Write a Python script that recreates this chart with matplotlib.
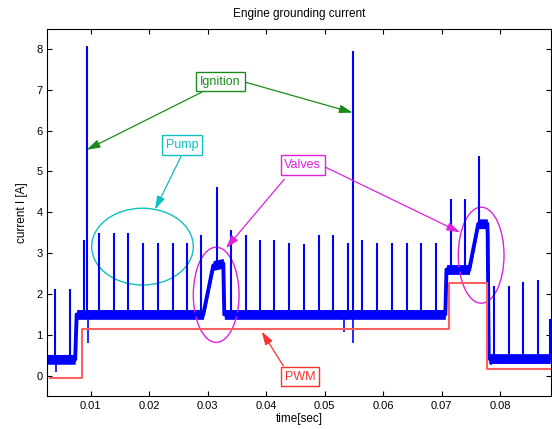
import numpy as np
import matplotlib
matplotlib.use("Agg")
import matplotlib.pyplot as plt
from matplotlib.patches import Ellipse

plt.rcParams['font.family'] = ['Liberation Sans', 'DejaVu Sans']

# baseline (noise band centre) of the measured current
base_t = [0.00258, 0.00735, 0.0076, 0.02926, 0.03097, 0.03268, 0.03285, 0.07065, 0.07085,
          0.07475, 0.07629, 0.07783, 0.0779, 0.07807, 0.0886]
base_v = [0.4, 0.4, 1.5, 1.5, 2.7, 2.75, 1.5, 1.5, 2.6,
          2.6, 3.72, 3.72, 3.45, 0.42, 0.42]

# spikes (time, peak)
spike_t = [0.0039, 0.00641, 0.00885, 0.00942, 0.01142, 0.01398, 0.01643, 0.01894, 0.02146,
           0.0240, 0.02642, 0.02892, 0.03155, 0.03405, 0.03656, 0.03896, 0.0414, 0.04391,
           0.04643, 0.04905, 0.05149, 0.054, 0.05481, 0.05645, 0.05897, 0.06153, 0.06404,
           0.06649, 0.069, 0.07157, 0.07407, 0.07646, 0.07898, 0.08154, 0.08399, 0.08645, 0.0886]
spike_v = [2.12, 2.12, 3.31, 8.07, 3.49, 3.49, 3.49, 3.24, 3.24,
           3.24, 3.24, 3.44, 4.61, 3.57, 3.44, 3.31, 3.31, 3.24,
           3.23, 3.44, 3.44, 3.24, 7.95, 3.31, 3.24, 3.24, 3.24,
           3.24, 3.24, 4.32, 4.32, 5.38, 2.2, 2.2, 2.3, 2.34, 1.4]

# downward dips (time, minimum)
dip_t = [0.0041, 0.00959, 0.0534, 0.05481, 0.0785]
dip_v = [0.1, 0.79, 1.08, 0.79, 0.27]

# PWM reference signal
pwm_t = [0.00304, 0.00846, 0.00846, 0.07122, 0.07122, 0.07783, 0.07783, 0.0886]
pwm_v = [-0.06, -0.06, 1.15, 1.15, 2.28, 2.28, 0.16, 0.16]

blue = '#0000ff'
green = '#1a8a1a'
cyan = '#10bfbf'
magenta = '#dd22dd'
red = '#ff3030'

fig = plt.figure(figsize=(5.52, 4.29), dpi=100)
ax = fig.add_axes([0.0857, 0.0776, 0.9116, 0.8541])

bt = np.array(base_t)
bv = np.array(base_v)
ax.fill_between(bt, bv - 0.12, bv + 0.12, color=blue, lw=0)
ax.plot(bt, bv, color=blue, lw=2.8)
foot = np.interp(spike_t, bt, bv)
ax.vlines(spike_t, foot, spike_v, color=blue, lw=1.5)
ax.vlines(dip_t, dip_v, np.interp(dip_t, bt, bv), color=blue, lw=1.2)

ax.plot(pwm_t, pwm_v, color='#ff6060', lw=1.5)

ax.set_xlim(0.00258, 0.08864)
ax.set_ylim(-0.49, 8.48)
ax.set_xticks([0.01, 0.02, 0.03, 0.04, 0.05, 0.06, 0.07, 0.08])
ax.set_xticklabels(['0.01', '0.02', '0.03', '0.04', '0.05', '0.06', '0.07', '0.08'])
ax.set_yticks(range(0, 9))
ax.tick_params(direction='in', top=True, right=True, length=3.5, labelsize=8, width=0.8)
for s in ax.spines.values():
    s.set_linewidth(0.8)

ax.set_title('Engine grounding current', fontsize=8.5, pad=9)
ax.set_xlabel('time[sec]', fontsize=8.5, labelpad=2)
ax.set_ylabel('current I [A]', fontsize=8.5, labelpad=6)

# ellipses round the events
ax.add_patch(Ellipse((0.01886, 3.16), 0.01738, 1.88, fill=False, ec=cyan, lw=1))
ax.add_patch(Ellipse((0.03146, 1.98), 0.00782, 2.33, fill=False, ec=magenta, lw=1))
ax.add_patch(Ellipse((0.07678, 2.95), 0.00782, 2.35, fill=False, ec=magenta, lw=1))

def label(x, y, text, color):
    ax.text(x, y, text, color=color, fontsize=9, ha='center', va='center',
            bbox=dict(boxstyle='square,pad=0.3', fc='white', ec=color, lw=1))

def arrow(x0, y0, x1, y1, color):
    ax.annotate('', xy=(x1, y1), xytext=(x0, y0),
                arrowprops=dict(arrowstyle='-|>,head_length=0.8,head_width=0.25',
                                color=color, lw=0.9, shrinkA=0, shrinkB=0))

arrow(0.02898, 6.94, 0.00932, 5.53, green)
arrow(0.0361, 7.2, 0.05481, 6.44, green)
arrow(0.02556, 5.40, 0.0210, 4.07, cyan)
arrow(0.04311, 4.81, 0.03314, 3.12, magenta)
arrow(0.04978, 5.13, 0.07316, 3.51, magenta)
arrow(0.04294, 0.24, 0.03925, 1.08, red)

label(0.0322, 7.2, 'Ignition', green)
label(0.02561, 5.65, 'Pump', cyan)
label(0.04628, 5.16, 'Valves', magenta)
label(0.04588, -0.02, 'PWM', red)

fig.savefig('out.png', dpi=100)
